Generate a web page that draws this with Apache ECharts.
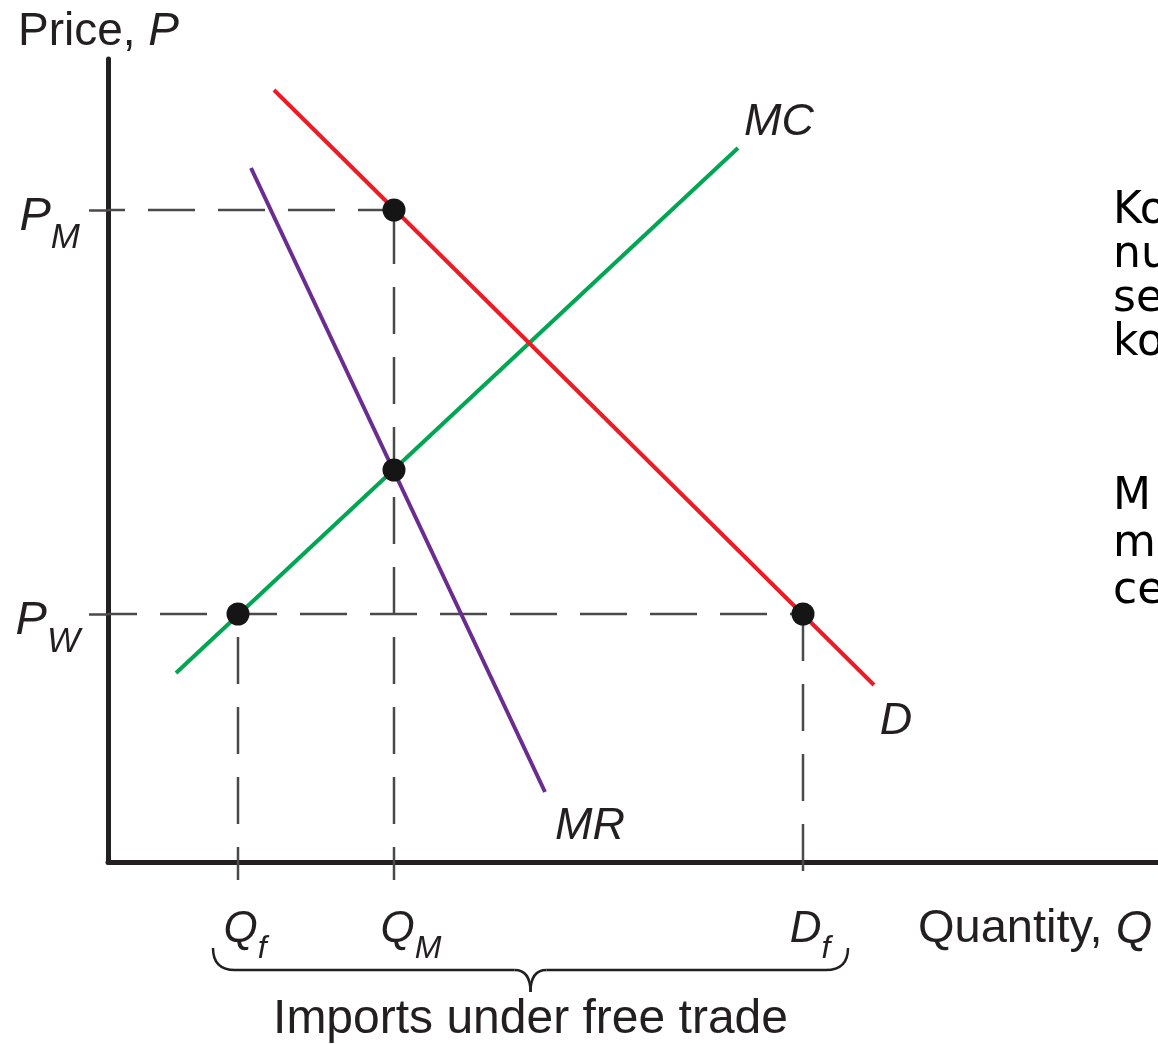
<!DOCTYPE html>
<html><head><meta charset="utf-8">
<script src="https://cdn.jsdelivr.net/npm/echarts@6/dist/echarts.min.js"></script>
<style>html,body{margin:0;padding:0;background:#fff;overflow:hidden}#c{width:1158px;height:1044px}</style>
</head><body><div id="c"></div>
<script>
// ---- data (x: quantity units, y: price units) ----
const qTickValues = [13.0, 28.6, 69.5];           // Qf, QM, Df
const qTickLabels = ['{a|Q}{b|f}', '{am|Q}{b|M}', '{a|D}{b|f}'];
const pTickValues = [24.8, 65.2];                  // PW, PM
const pTickLabels = ['{pa|P}{pb|W}', '{pa|P}{pb|M}'];
const demandLine = [[16.6, 77.2], [76.6, 17.7]];
const mcLine = [[6.8, 18.9], [63.0, 71.4]];
const mrLine = [[14.3, 69.4], [43.7, 7.0]];
const keyPoints = [[28.6, 65.2], [28.6, 39.2], [13.0, 24.8], [69.5, 24.8]];
const curveNames = ['D', 'MC', 'MR'];
const sideTextA = ['Ko', 'nu', 'se', 'ko'];
const sideTextB = ['M', 'm', 'ce'];

const TICK_EXT = -1.8;
const FONT = '"Liberation Sans", Arial, Helvetica, sans-serif';
const TXT = '#231f20';
const DASH = '#4a4a4a';
const qf = qTickValues[0], qm = qTickValues[1], df = qTickValues[2];
const pw = pTickValues[0], pm = pTickValues[1];

function guide(points, offset) {
  return { type: 'line', data: points, symbol: 'none', clip: false, silent: true, z: 1,
    lineStyle: { color: DASH, width: 2.5, type: [47, 23], dashOffset: offset, opacity: 1 } };
}
function curve(points, color) {
  return { type: 'line', data: points, symbol: 'none', clip: false, silent: true, z: 3,
    lineStyle: { color: color, width: 4, cap: 'butt', opacity: 1 } };
}
const labelOffsets = { D: [22, 36], MC: [41, -26], MR: [45, 34] };
const curveEnds = [demandLine[1], mcLine[1], mrLine[1]];

const chart = echarts.init(document.getElementById('c'), null, { renderer: 'canvas' });
const option = {
  animation: false,
  backgroundColor: '#fff',
  grid: { left: 108, right: 0, top: 59, bottom: 182, containLabel: false, outerBoundsMode: 'none' },
  xAxis: {
    type: 'value', min: 0, max: 105,
    axisLine: { show: true, onZero: false, lineStyle: { color: TXT, width: 5 } },
    axisTick: { show: false }, splitLine: { show: false },
    axisLabel: {
      customValues: qTickValues, margin: 43, padding: [0, 0, 0, 14],
      formatter: v => qTickLabels[qTickValues.indexOf(v)],
      rich: {
        a: { fontFamily: FONT, fontStyle: 'italic', fontSize: 44, color: TXT, lineHeight: 50 },
        am: { fontFamily: FONT, fontStyle: 'italic', fontSize: 44, color: TXT, lineHeight: 50, padding: [0, 0, 0, 20] },
        b: { fontFamily: FONT, fontStyle: 'italic', fontSize: 32, color: TXT, lineHeight: 50, padding: [38, 0, 0, 0] }
      }
    },
    name: 'Quantity, {i|Q}', nameLocation: 'end', nameGap: -240, nameMoveOverlap: false,
    nameTextStyle: { fontFamily: FONT, fontSize: 47, color: TXT, verticalAlign: 'top', align: 'left', padding: [44, 0, 0, 0],
      rich: { i: { fontFamily: FONT, fontStyle: 'italic', fontSize: 47, color: TXT } } }
  },
  yAxis: {
    type: 'value', min: 0, max: 80.3,
    axisLine: { show: true, onZero: false, lineStyle: { color: TXT, width: 5 } },
    axisTick: { show: true, customValues: pTickValues, length: 19, inside: false,
      lineStyle: { color: DASH, width: 2.5 } },
    splitLine: { show: false },
    axisLabel: {
      customValues: pTickValues, margin: 28,
      formatter: v => pTickLabels[pTickValues.indexOf(v)],
      rich: {
        pa: { fontFamily: FONT, fontStyle: 'italic', fontSize: 47, color: TXT, lineHeight: 52, padding: [13, 0, 0, 0] },
        pb: { fontFamily: FONT, fontStyle: 'italic', fontSize: 35, color: TXT, lineHeight: 52, padding: [56, 0, 0, 0] }
      }
    },
    name: 'Price, {i|P}', nameLocation: 'end', nameGap: 27, nameMoveOverlap: false,
    nameTextStyle: { fontFamily: FONT, fontSize: 46, color: TXT, verticalAlign: 'middle', align: 'center', padding: [0, 19, 0, 0],
      rich: { i: { fontFamily: FONT, fontStyle: 'italic', fontSize: 46, color: TXT } } }
  },
  series: [
    guide([[0, pm], [qm, pm]], 30),
    guide([[0, pw], [df, pw]], 18),
    guide([[qm, pm], [qm, TICK_EXT]], 63),
    guide([[qf, pw], [qf, TICK_EXT]], 47),
    guide([[df, pw], [df, TICK_EXT]], 0),
    curve(mrLine, '#6a2c91'),
    curve(mcLine, '#00a651'),
    curve(demandLine, '#ed1c24'),
    { type: 'scatter', data: keyPoints, symbolSize: 23, z: 5, silent: true,
      itemStyle: { color: '#151515', opacity: 1 } },
    { type: 'scatter', symbolSize: 0, z: 6, silent: true, itemStyle: { opacity: 1 },
      data: curveNames.map((n, i) => ({ name: n, value: curveEnds[i], label: { offset: labelOffsets[n] } })),
      label: { show: true, position: 'inside', formatter: '{b}', fontFamily: FONT, fontStyle: 'italic', fontSize: 45, color: TXT, opacity: 1 } }
  ]
};
chart.setOption(option);

// annotation: brace under Qf..Df and side text
const pxL = chart.convertToPixel({ gridIndex: 0 }, [qf, 0])[0] - 25;
const pxR = chart.convertToPixel({ gridIndex: 0 }, [df, 0])[0] + 45;
const pxM = (pxL + pxR) / 2;
const yTip = 948, yBar = 970, yPt = 992;
const braceStyle = { stroke: TXT, lineWidth: 2.5, fill: null };
function qc(x1, y1, cx, cy, x2, y2) {
  return { type: 'bezierCurve', silent: true, shape: { x1: x1, y1: y1, cpx1: cx, cpy1: cy, x2: x2, y2: y2 }, style: braceStyle };
}
function ln(x1, y1, x2, y2) {
  return { type: 'line', silent: true, shape: { x1: x1, y1: y1, x2: x2, y2: y2 }, style: braceStyle };
}
const sideFont = '44px "DejaVu Sans", Verdana, sans-serif';
const graphic = [
  qc(pxL, yTip, pxL, yBar, pxL + 22, yBar),
  ln(pxL + 22, yBar, pxM - 16, yBar),
  qc(pxM - 16, yBar, pxM, yBar, pxM, yPt),
  qc(pxM, yPt, pxM, yBar, pxM + 16, yBar),
  ln(pxM + 16, yBar, pxR - 22, yBar),
  qc(pxR - 22, yBar, pxR, yBar, pxR, yTip),
  { type: 'text', x: pxM, y: 1020, silent: true, style: { text: 'Imports under free trade', font: '48px ' + FONT, fill: TXT, align: 'center', verticalAlign: 'middle' } }
];
sideTextA.forEach((t, i) => graphic.push({ type: 'text', x: 1113, y: 212 + i * 44, silent: true,
  style: { text: t, font: sideFont, fill: '#000', align: 'left', verticalAlign: 'middle' } }));
sideTextB.forEach((t, i) => graphic.push({ type: 'text', x: 1113, y: 498 + i * 47, silent: true,
  style: { text: t, font: sideFont, fill: '#000', align: 'left', verticalAlign: 'middle' } }));
chart.setOption({ graphic: graphic });
</script></body></html>
